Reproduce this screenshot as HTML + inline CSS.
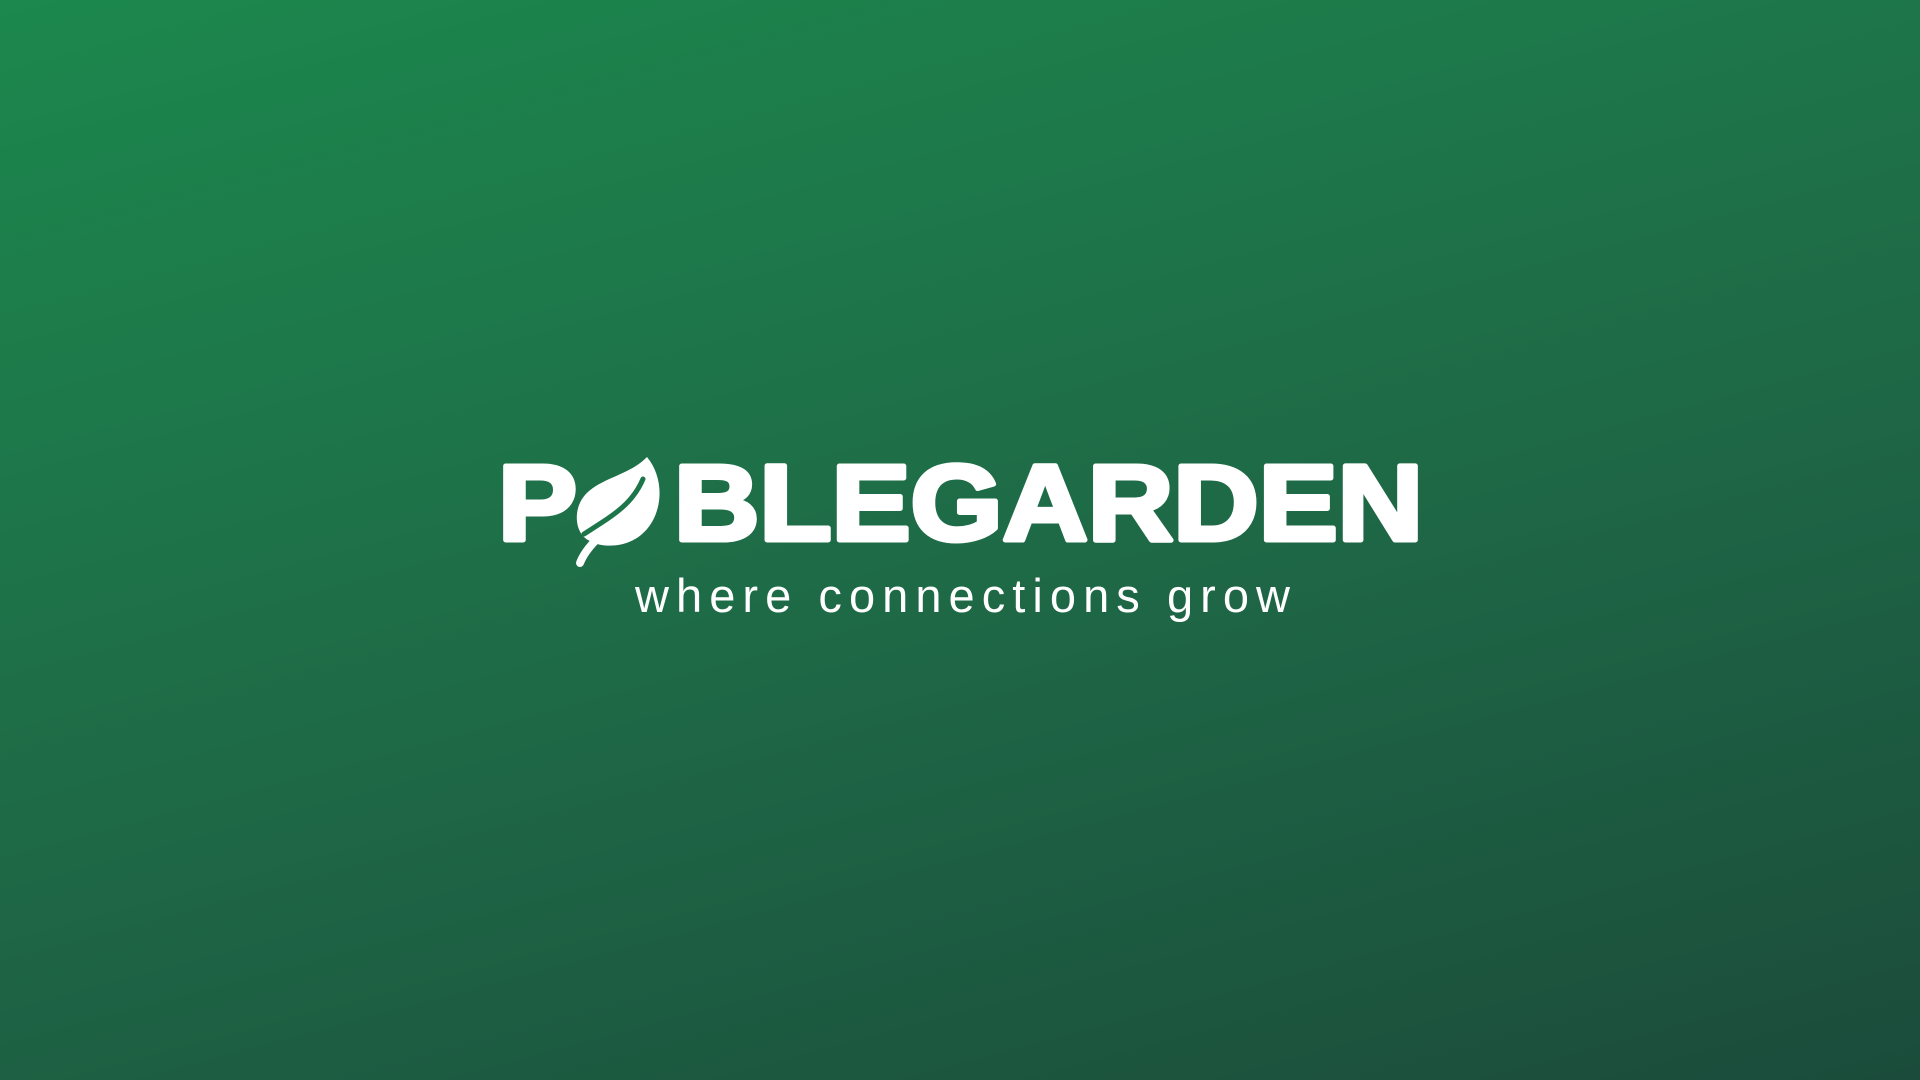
<!DOCTYPE html>
<html><head><meta charset="utf-8"><style>
html,body{margin:0;padding:0;width:1920px;height:1080px;overflow:hidden}
body{background:linear-gradient(165deg,#1c884d 0%,#1e6b47 50%,#1b4c3b 100%)}
svg{position:absolute;left:0;top:0}
</style></head><body>
<svg width="1920" height="1080">
<g fill="#fff" stroke="#fff" stroke-width="5" stroke-linejoin="round" font-family="Liberation Sans, sans-serif" font-weight="bold" font-size="108">
<text x="498" y="540" textLength="79" lengthAdjust="spacingAndGlyphs">P</text>
<text x="674" y="540" textLength="749" lengthAdjust="spacingAndGlyphs">BLEGARDEN</text>
</g>
<g>
<path fill="#fff" d="M647 457 C630 475,600 478,585 495 C572 510,575 535,590 541 C602 548,625 548,641 535 C663 517,666 480,647 457 Z"/>
<path fill="none" stroke="#1d7649" stroke-width="5" stroke-linecap="round" d="M643 479 C632 505,612 516,584 534"/>
<path fill="none" stroke="#fff" stroke-width="8" stroke-linecap="round" d="M597 539 C588 548,583 555,580 563"/>
</g>
<text x="635" y="612" textLength="655" lengthAdjust="spacing" fill="#fff" font-family="Liberation Sans, sans-serif" font-size="47">where connections grow</text>
</svg>
</body></html>
